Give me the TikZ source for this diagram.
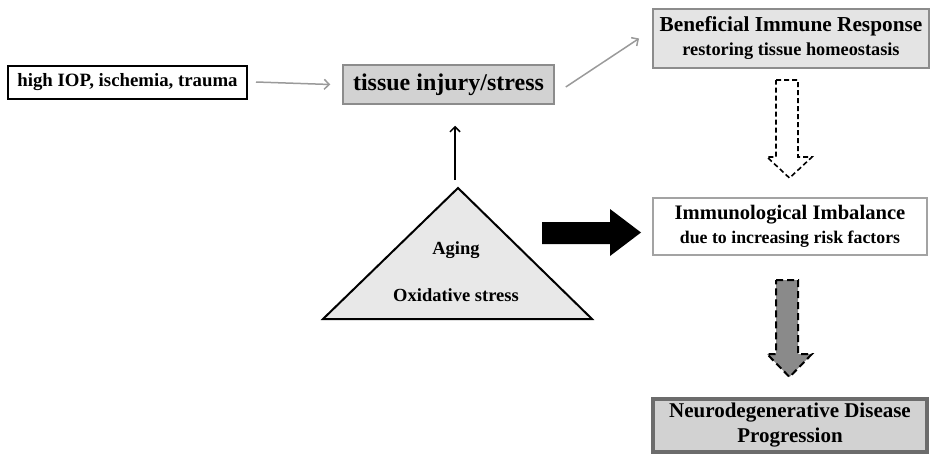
\documentclass[tikz,border=0pt]{standalone}
\usepackage{fontspec}
\setmainfont{Liberation Serif}
\usetikzlibrary{arrows.meta}
\definecolor{boxgray}{HTML}{D2D2D2}
\definecolor{lightbox}{HTML}{E4E4E4}
\definecolor{trifill}{HTML}{E8E8E8}
\definecolor{edgegray}{HTML}{8C8C8C}
\definecolor{arrgray}{HTML}{9A9A9A}
\definecolor{blockgray}{HTML}{8A8A8A}
\begin{document}
\begin{tikzpicture}[x=1pt,y=-1pt,
  box/.style={draw, inner sep=0pt, align=center},
  thinarrow/.style={line width=1.5pt, -{Straight Barb[length=5pt,width=10pt]}},
]
\useasboundingbox (0,0) rectangle (931,463);
% boxes
\node[box, line width=2pt, fill=white, minimum width=239, minimum height=33,
      font=\bfseries\fontsize{18.8}{18.8}\selectfont] (b1) at (127.5,82) {high IOP, ischemia, trauma};
\node[box, draw=edgegray, line width=1.5pt, fill=boxgray, minimum width=211, minimum height=39,
      font=\bfseries\fontsize{24}{24}\selectfont] (b2) at (448.5,84.5) {tissue injury/stress};
\node[box, draw=edgegray, line width=2pt, fill=lightbox, minimum width=276, minimum height=59,
      font=\bfseries\fontsize{18.3}{24}\selectfont] (b3) at (791,38.5)
      {{\fontsize{21.3}{24}\selectfont Beneficial Immune Response}\\restoring tissue homeostasis};
\node[box, draw=edgegray!80, line width=2pt, fill=white, minimum width=274, minimum height=57,
      font=\bfseries\fontsize{17.8}{24}\selectfont] (b4) at (790,226.5)
      {{\fontsize{20.6}{24}\selectfont Immunological Imbalance}\\due to increasing risk factors};
\node[box, draw=gray!85!black, line width=4pt, fill=boxgray, minimum width=274, minimum height=53,
      font=\bfseries\fontsize{21}{25}\selectfont] (b5) at (790,425.5)
      {Neurodegenerative Disease\\Progression};
% triangle
\coordinate (apex) at (458,188);
\coordinate (bl) at (323,319);
\coordinate (br) at (592,319);
\draw[line width=2pt, fill=trifill, line join=miter] (apex) -- (bl) -- (br) -- cycle;
\node[font=\bfseries\fontsize{18.5}{18.5}\selectfont] (aging) at (456,250) {Aging};
\node[font=\bfseries\fontsize{18.5}{18.5}\selectfont] (oxid) at (456,295) {Oxidative stress};
% thin arrows
\draw[thinarrow, arrgray] ([xshift=8]b1.east) -- ([xshift=-12]b2.west);
\draw[thinarrow, arrgray] ([xshift=11,yshift=-2.5]b2.east) -- ([xshift=-13]b3.west);
\draw[thinarrow, black] ([xshift=-3,yshift=8]apex) -- ([xshift=6.5,yshift=-21]b2.south);
% black block arrow
\fill[black] (542,222) -- (610,222) -- (610,209) -- (641,232.5) -- (610,256) -- (610,244) -- (542,244) -- cycle;
% dashed hollow arrow
\draw[line width=1.6pt, dash pattern=on 5pt off 3pt, fill=white]
  (776,80) -- (798,80) -- (798,157) -- (812,157) -- (789.5,178) -- (767,157) -- (776,157) -- cycle;
% gray dashed arrow
\draw[line width=2pt, dash pattern=on 7pt off 4pt, fill=blockgray]
  (776,280) -- (798,280) -- (798,354) -- (812,354) -- (789.5,377) -- (767,354) -- (776,354) -- cycle;
\end{tikzpicture}
\end{document}
